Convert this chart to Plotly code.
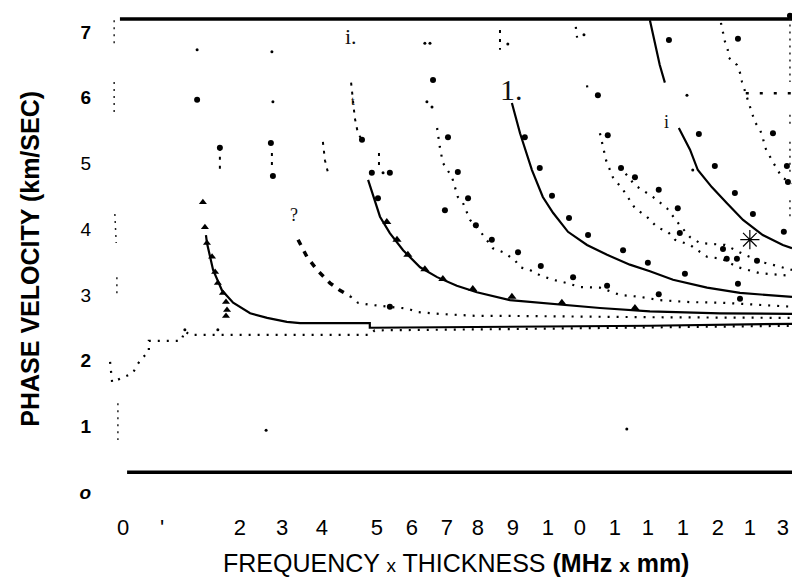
import plotly.graph_objects as go

# ---------------------------------------------------------------- data
# tick labels as they appear on the scanned figure
x_tick_vals = [0, 1.15, 3.44, 4.68, 5.85, 7.47, 8.5, 9.53, 10.44, 11.47,
               12.5, 13.44, 14.47, 15.44, 16.47, 17.5, 18.44, 19.41]
x_tick_text = ["0", "'", "2", "3", "4", "5", "6", "7", "8", "9",
               "1", "0", "1", "1", "1", "2", "1", "3"]
y_tick_vals = [0, 1, 2, 3, 4, 5, 6, 7]
y_tick_text = ["<b><i>o</i></b>", "<b>1</b>", "<b>2</b>", "3", "4", "5",
               "<b>6</b>", "<b>7</b>"]

# frame lines
frame_top_x = [-0.09, 19.68]
frame_top_v = [7.2, 7.2]
frame_bot_x = [0.12, 19.68]
frame_bot_v = [0.3, 0.3]

# solid dispersion curves
s1_x = [2.44, 2.47, 2.65, 2.91, 3.24, 3.74, 4.24, 4.82, 5.21, 7.26, 7.26, 11.38, 15.5, 19.68]
s1_v = [3.91, 3.79, 3.38, 3.07, 2.88, 2.72, 2.65, 2.59, 2.57, 2.57, 2.50, 2.51, 2.53, 2.56]
s2_x = [7.21, 7.56, 7.85, 8.24, 8.74, 9.24, 9.82, 10.41, 11.38, 12.85, 14.03, 15.5, 17.56, 19.68]
s2_v = [4.75, 4.19, 3.94, 3.68, 3.42, 3.27, 3.14, 3.04, 2.92, 2.85, 2.80, 2.75, 2.72, 2.71]
s3_x = [11.44, 11.68, 12.03, 12.35, 12.65, 13.09, 13.65, 14.24, 14.91, 15.5, 16.18, 17.18, 18.15, 19.68]
s3_v = [5.92, 5.46, 4.90, 4.49, 4.25, 3.96, 3.76, 3.61, 3.46, 3.36, 3.23, 3.11, 3.03, 2.97]
s4_x = [15.5, 15.65, 15.79, 15.94, None, 16.35, 16.68, 16.91, 17.32, 17.76, 18.24, 18.82, 19.41, 19.68]
s4_v = [7.18, 6.80, 6.50, 6.23, None, 5.54, 5.21, 4.90, 4.64, 4.40, 4.14, 3.91, 3.76, 3.71]

# dotted dispersion curves
d0_x = [-0.38, -0.32, 0.29, 0.41, 0.56, 0.76, 0.76, 1.71, 1.82, 1.97, 7.26, 7.4, 11.4, 15.5, 19.68]
d0_v = [1.98, 1.67, 1.81, 1.93, 2.04, 2.13, 2.30, 2.30, 2.45, 2.39, 2.39, 2.46, 2.48, 2.50, 2.53]
d1a_x = [5.15, 5.41, 5.71, 6.09, 6.38, 6.68]
d1a_v = [3.84, 3.58, 3.38, 3.18, 3.07, 2.98]
d1b_x = [6.68, 6.91, 7.26, 7.85, 8.38, 8.65, 9.32, 10.41, 11.38, 15.5, 19.68]
d1b_v = [2.98, 2.88, 2.85, 2.82, 2.79, 2.74, 2.71, 2.68, 2.68, 2.66, 2.65]
d2_x = [9.24, 9.32, 9.41, 9.68, 9.85, 10.0, 10.21, 10.41, 10.65, 10.88, 11.18, 11.53, 11.68,
        11.97, 12.26, 12.65, 13.06, 13.44, 14.03, 14.62, 15.21, 15.79, 16.68, 17.65, 18.65, 19.68]
d2_v = [5.54, 5.25, 5.01, 4.79, 4.49, 4.40, 4.14, 4.03, 3.87, 3.71, 3.65, 3.53, 3.42,
        3.38, 3.30, 3.23, 3.18, 3.12, 3.11, 3.00, 2.97, 2.92, 2.89, 2.88, 2.85, 2.82]
d3a_x = [13.32, 13.38, None, 13.65, 13.68, None, 14.03, 14.12, 14.21, 14.41, 14.71, 15.06, 15.41,
         15.71, 16.03, 16.24, 16.68, 17.18, 17.62, 18.09, 18.74, 19.68]
d3a_v = [7.08, 6.82, None, 6.19, 6.06, None, 5.46, 5.25, 5.05, 4.79, 4.60, 4.32, 4.19,
         4.03, 3.96, 3.84, 3.76, 3.58, 3.55, 3.42, 3.33, 3.29]
d3b_x = [14.62, 15.06, 15.59, 16.0, 16.38, 16.68, 16.97, 17.71, 18.29, 18.88, 19.68]
d3b_v = [4.95, 4.67, 4.49, 4.32, 4.06, 3.88, 3.79, 3.76, 3.61, 3.49, 3.38]
d4_x = [17.59, 17.65, 17.71, 17.79, 17.82, 18.06, 18.15, 18.21, 18.44, 18.53, 18.59, 18.74,
        18.82, 18.88, 18.97, 19.12, 19.26, 19.38, 19.68]
d4_v = [7.14, 6.99, 6.85, 6.73, 6.61, 6.50, 6.38, 6.24, 5.86, 5.74, 5.63, 5.51,
        5.40, 5.25, 5.16, 5.02, 4.90, 4.79, 4.70]
d4_flat_x = [18.32, 19.68]
d4_flat_v = [6.07, 6.07]

# broken vertical traces at both edges and near the cut-offs
edge_left_x = [-0.26, -0.26, None, -0.26, -0.26, None, -0.24, -0.2, None, -0.18, -0.18, None, -0.15, -0.15]
edge_left_v = [7.18, 6.83, None, 6.24, 5.74, None, 4.23, 3.79, None, 3.27, 2.95, None, 1.35, 0.79]
edge_right_x = [19.62, 19.62, None, 19.62, 19.62, None, 19.62, 19.62, None, 19.62, 19.62]
edge_right_v = [7.22, 6.24, None, 5.74, 5.54, None, 5.33, 4.82, None, 4.44, 4.17]
frag_x = [2.85, 2.85, None, 4.38, 4.38, None, 5.88, 5.94, 6.03, None,
          6.71, 6.74, 6.82, 6.91, 7.03, None, 7.53, 7.53, None, 11.09, 11.09]
frag_v = [5.24, 4.87, None, 5.16, 4.95, None, 5.33, 5.05, 4.86, None,
          6.23, 6.05, 5.69, 5.46, 5.36, None, 5.16, 4.95, None, 7.03, 6.73]

# measured points
m1_x = [2.35, 2.41, 2.47, 2.62, 2.71, 2.79, 2.94, 3.03, 3.06, 3.03]
m1_v = [4.41, 4.03, 3.79, 3.58, 3.35, 3.18, 3.03, 2.89, 2.77, 2.68]
m2_x = [7.76, 8.06, 8.38, 8.88, 9.41, 10.29, 11.44, 12.91, 15.06]
m2_v = [4.11, 3.84, 3.61, 3.39, 3.24, 3.09, 2.97, 2.88, 2.80]
dots_x = [9.56, 9.85, 10.15, 9.47, 10.38, 10.85, 11.62, 12.29, 13.24, 14.24, 15.76, 18.15, 7.85, 7.5,
          11.82, 12.26, 12.62, 13.12, 13.68, 14.71, 15.44, 16.53, 18.09,
          13.97, 14.26, 14.65, 15.06, 15.76, 16.32, 16.38, 17.65, 17.76, 18.06, 18.65,
          16.06, 16.94, 17.41, 18.0, 18.53, 19.44,
          18.09, 19.12, 19.53, 19.56]
dots_v = [5.40, 4.87, 4.47, 4.29, 4.06, 3.84, 3.65, 3.44, 3.27, 3.14, 3.01, 2.94, 2.82, 4.47,
          5.40, 4.93, 4.51, 4.17, 3.91, 3.68, 3.49, 3.32, 3.17,
          6.04, 5.43, 4.93, 4.79, 4.60, 4.32, 3.94, 3.70, 3.55, 3.55, 3.52,
          6.88, 5.45, 4.96, 4.55, 4.23, 3.96,
          6.90, 5.46, 4.96, 4.72]
blob_x = [2.18, 4.35, 4.41, 7.32, 7.85, 9.12, 2.85, 7.03, 19.62]
blob_v = [5.97, 5.31, 4.81, 4.86, 4.86, 6.27, 5.24, 5.36, 7.25]
speck_x = [2.18, 4.41, 7.65, 4.21, 14.82, 11.32, 13.56, 1.82, 2.79, 4.38, 8.88, 9.03, 8.94, 9.09,
           16.59, 16.76]
speck_v = [6.73, 5.94, 4.86, 0.94, 0.96, 6.82, 6.96, 2.47, 2.47, 6.70, 6.83, 6.83, 5.94, 5.86,
           6.04, 4.90]
star_x = [18.44]
star_v = [3.84]

# stray glyphs left on the scan
glyph_text = ["i.", "t", "1.", "i", "?"]
glyph_x = [6.7, 6.78, 11.42, 16.0, 5.02]
glyph_v = [6.93, 5.96, 6.12, 5.63, 4.22]
glyph_size = [22, 13, 30, 18, 18]

# ---------------------------------------------------------------- figure
BLACK = "#000000"
fig = go.Figure()


def add_line(x, v, width=2, dash="solid", color=BLACK):
    fig.add_trace(go.Scatter(x=x, y=v, mode="lines", connectgaps=False,
                             line=dict(color=color, width=width, dash=dash),
                             hoverinfo="skip", showlegend=False))


def add_points(x, v, symbol="circle", size=6, lw=0):
    fig.add_trace(go.Scatter(x=x, y=v, mode="markers",
                             marker=dict(symbol=symbol, size=size, color=BLACK,
                                         line=dict(color=BLACK, width=lw)),
                             hoverinfo="skip", showlegend=False))


add_line(frame_top_x, frame_top_v, width=3.5)
add_line(frame_bot_x, frame_bot_v, width=3.5)

for xs, vs in [(s1_x, s1_v), (s2_x, s2_v), (s3_x, s3_v), (s4_x, s4_v)]:
    add_line(xs, vs, width=2.2)

add_line(d1a_x, d1a_v, width=3.5, dash="6px,7px")
for xs, vs in [(d0_x, d0_v), (d1b_x, d1b_v), (d2_x, d2_v), (d3a_x, d3a_v),
               (d3b_x, d3b_v), (d4_x, d4_v)]:
    add_line(xs, vs, width=2.2, dash="2px,7px")
add_line(d4_flat_x, d4_flat_v, width=2.5, dash="3px,11px")

add_line(edge_left_x, edge_left_v, width=1.5, dash="2px,5px", color="#222222")
add_line(edge_right_x, edge_right_v, width=1.5, dash="2px,5px", color="#222222")
add_line(frag_x, frag_v, width=2, dash="3px,6px")

add_points(m1_x, m1_v, symbol="triangle-up", size=7)
add_points(m2_x, m2_v, symbol="triangle-up", size=8)
add_points(dots_x, dots_v, size=6)
add_points(blob_x, blob_v, size=6)
add_points(speck_x, speck_v, size=3)
add_points(star_x, star_v, symbol="asterisk-open", size=16, lw=1.2)

for t, gx, gv, gs in zip(glyph_text, glyph_x, glyph_v, glyph_size):
    fig.add_annotation(x=gx, y=gv, text=t, showarrow=False,
                       font=dict(family="Liberation Serif", size=gs, color="#111111"))

FONT = "Arial, Liberation Sans, sans-serif"
fig.add_annotation(xref="paper", yref="paper", x=-0.089, y=0.497,
                   text="<b>PHASE VELOCITY (km/SEC)</b>", textangle=-90,
                   showarrow=False, xanchor="center", yanchor="middle",
                   font=dict(family=FONT, size=25, color=BLACK))
fig.add_annotation(xref="paper", yref="paper", x=0.52, y=-0.117,
                   text="FREQUENCY <span style='font-size:19px'>x</span> THICKNESS "
                        "<b>(MHz <span style='font-size:19px'>x</span> mm)</b>",
                   showarrow=False, xanchor="center", yanchor="middle",
                   font=dict(family=FONT, size=25, color=BLACK))

fig.update_layout(
    width=792, height=578,
    margin=dict(l=92, r=0, t=10, b=73),
    paper_bgcolor="white", plot_bgcolor="white",
    font=dict(family=FONT, color=BLACK),
    xaxis=dict(range=[-0.912, 19.68], showgrid=False, zeroline=False, showline=False,
               ticks="", tickvals=x_tick_vals, ticktext=x_tick_text,
               tickfont=dict(size=22), ticklabelstandoff=7),
    yaxis=dict(range=[-0.198, 7.336], showgrid=False, zeroline=False, showline=False,
               ticks="", tickvals=y_tick_vals, ticktext=y_tick_text,
               tickfont=dict(size=19)),
)

# the page's default body margin would push the plot 8px off; remove it
fig.write_html("out.html", config={"displayModeBar": False},
               post_script="document.body.style.margin='0';")
